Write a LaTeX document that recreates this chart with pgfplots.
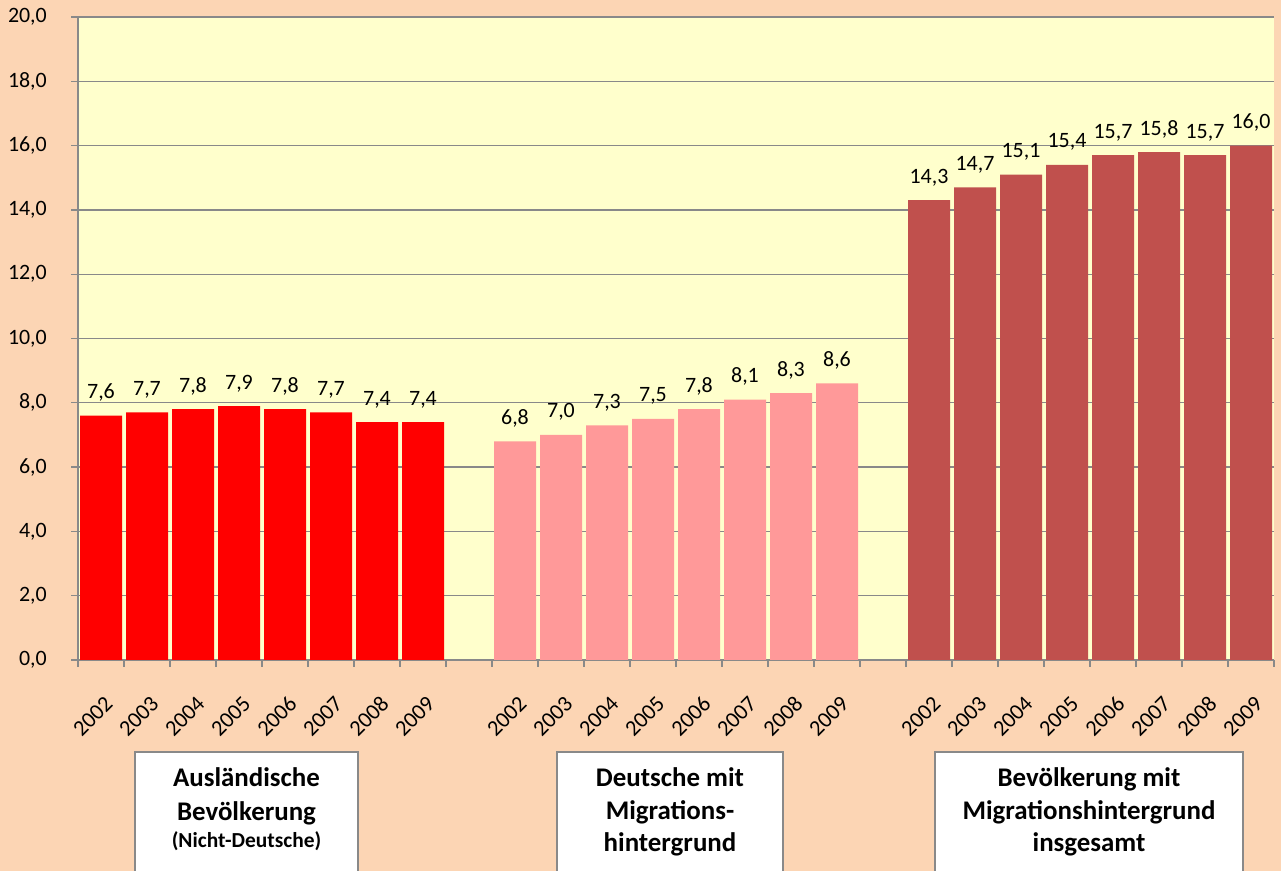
\documentclass[border=0pt]{standalone}
\usepackage{pgfplots}
\pgfplotsset{compat=1.18}
\usepackage{fontspec}
\setmainfont{Carlito}
\definecolor{bgpeach}{HTML}{FCD5B4}
\definecolor{plotbg}{HTML}{FFFFCC}
\definecolor{gridgray}{HTML}{898989}
\definecolor{barA}{HTML}{FF0000}
\definecolor{barB}{HTML}{FF9999}
\definecolor{barC}{HTML}{C0504D}
\begin{document}
\begin{tikzpicture}[x=1bp,y=1bp]
\useasboundingbox (0,0) rectangle (1281,871);
\fill[bgpeach] (0,0) rectangle (1281,871);
\begin{axis}[
  at={(78bp,211bp)}, anchor=south west,
  scale only axis, width=1196bp, height=643bp,
  xmin=-0.5, xmax=25.5, ymin=0, ymax=20,
  axis background/.style={fill=plotbg},
  axis x line*=bottom, axis y line*=left,
  axis line style={gridgray, line width=1.3bp, -},
  ytick={0,2,...,20},
  ymajorgrids, grid style={gridgray, line width=1.3bp},
  tick style={gridgray, line width=1.3bp},
  tick align=outside, major tick length=7bp,
  xtick={-0.5,0.5,...,25.5}, xticklabels={},
  extra x ticks={0,1,2,3,4,5,6,7,9,10,11,12,13,14,15,16,18,19,20,21,22,23,24,25},
  extra x tick labels={2002,2003,2004,2005,2006,2007,2008,2009,2002,2003,2004,2005,2006,2007,2008,2009,2002,2003,2004,2005,2006,2007,2008,2009},
  extra x tick style={major tick length=0pt, xticklabel style={xshift=8bp, yshift=-40bp, rotate=45, anchor=east, inner sep=0pt}},
  /pgf/number format/assume math mode=true,
  yticklabel={\pgfmathprintnumber[fixed, fixed zerofill, precision=1, use comma]{\tick}},
  yticklabel style={font=\fontsize{22}{26}\selectfont, inner sep=0pt, xshift=-24bp},
  xticklabel style={font=\fontsize{22.5}{26}\selectfont},
  ybar, bar width=42bp, bar shift=0pt,
  nodes near coords,
  nodes near coords style={font=\fontsize{22}{26}\selectfont, anchor=south, inner sep=0pt, yshift=14bp,
    /pgf/number format/.cd, fixed, fixed zerofill, precision=1, use comma, assume math mode=true},
  clip=false,
]
\addplot[fill=barA, draw=none] coordinates {(0,7.6) (1,7.7) (2,7.8) (3,7.9) (4,7.8) (5,7.7) (6,7.4) (7,7.4)};
\addplot[fill=barB, draw=none] coordinates {(9,6.8) (10,7.0) (11,7.3) (12,7.5) (13,7.8) (14,8.1) (15,8.3) (16,8.6)};
\addplot[fill=barC, draw=none] coordinates {(18,14.3) (19,14.7) (20,15.1) (21,15.4) (22,15.7) (23,15.8) (24,15.7) (25,16.0)};
\end{axis}
% category boxes
\draw[gridgray, line width=2bp, fill=white] (135,-10) rectangle (358,119);
\draw[gridgray, line width=2bp, fill=white] (557,-10) rectangle (783,119);
\draw[gridgray, line width=2bp, fill=white] (935,-10) rectangle (1243,119);
\begin{scope}[every node/.style={anchor=base, inner sep=0pt, font=\bfseries\fontsize{27}{32}\selectfont}]
\node at (246.5,84) {Ausländische};
\node at (246.5,50) {Bevölkerung};
\node[font=\bfseries\fontsize{21.5}{25}\selectfont] at (246.5,23) {(Nicht-Deutsche)};
\node at (670,84) {Deutsche mit};
\node at (670,51) {Migrations-};
\node at (670,19) {hintergrund};
\node at (1089,84) {Bevölkerung mit};
\node at (1089,51) {Migrationshintergrund};
\node at (1089,19) {insgesamt};
\end{scope}
\end{tikzpicture}
\end{document}
